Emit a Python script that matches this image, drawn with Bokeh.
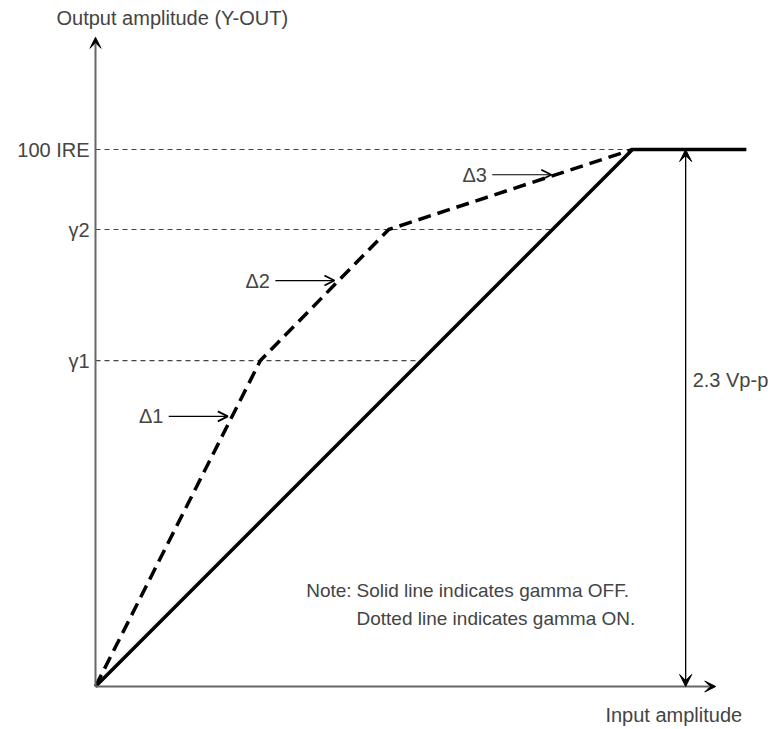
import numpy as np
from bokeh.plotting import figure
from bokeh.models import Arrow, VeeHead, OpenHead, Label, Range1d
from bokeh.embed import file_html
from bokeh.resources import INLINE

# ---- data (output units: 100 = 100 IRE; input scaled so gamma OFF is 1:1) ----
level_names = ["100 IRE", "\u03b32", "\u03b31"]
level_values = [100.0, 85.1, 60.7]

gamma_off_x = [0.0, 100.0, 121.2]
gamma_off_y = [0.0, 100.0, 100.0]

gamma_on_x = [0.0, 30.7, 54.6, 100.0]
gamma_on_y = [0.0, 60.7, 85.1, 100.0]

delta_names = ["\u03941", "\u03942", "\u03943"]
delta_y = [50.3, 75.6, 95.3]

note_lines = ["Solid line indicates gamma OFF.", "Dotted line indicates gamma ON."]
y_title = "Output amplitude (Y-OUT)"
x_title = "Input  amplitude"
span_label = "2.3 Vp-p"

FONT = "Liberation Sans"
FS = "20px"
FS_NOTE = "19px"

W, H = 780, 729
S = 5.37          # px per unit
OX, OY = 95, 43   # origin in canvas px (from left, from bottom)

p = figure(width=W, height=H, output_backend="svg", toolbar_location=None,
           x_range=Range1d(-OX / S, (W - OX) / S), y_range=Range1d(-OY / S, (H - OY) / S),
           min_border=0, background_fill_color="white", border_fill_color="white")
p.axis.visible = False
p.grid.visible = False
p.outline_line_color = None

# reference level dashed lines (end where they meet the gamma-OFF line)
p.segment(x0=[0] * len(level_values), y0=level_values, x1=level_values, y1=level_values,
          line_color="#444444", line_width=1.2, line_dash="5 4")

# axes with arrowheads
p.add_layout(Arrow(end=VeeHead(size=11, fill_color="black", line_color="black"),
                   x_start=0, y_start=0, x_end=0, y_end=120.9,
                   line_color="#666666", line_width=2))
p.add_layout(Arrow(end=VeeHead(size=11, fill_color="black", line_color="black"),
                   x_start=0, y_start=0, x_end=115.5, y_end=0,
                   line_color="#666666", line_width=2))

# curves
p.line(gamma_off_x, gamma_off_y, line_color="black", line_width=3.5, line_join="miter")
p.line(gamma_on_x, gamma_on_y, line_color="black", line_width=3.5, line_dash="13 7",
       line_join="round")

# 2.3 Vp-p span arrow
span_x = 109.9
p.add_layout(Arrow(start=VeeHead(size=12, fill_color="black", line_color="black"),
                   end=VeeHead(size=12, fill_color="black", line_color="black"),
                   x_start=span_x, y_start=0, x_end=span_x, y_end=level_values[0],
                   line_color="black", line_width=1.3))
p.add_layout(Label(x=span_x + 1.3, y=57.0, text=span_label, text_align="left",
                   text_baseline="middle", text_font=FONT, text_font_size=FS))

# delta arrows pointing at the gamma-ON segments
for name, yy in zip(delta_names, delta_y):
    tip = float(np.interp(yy, gamma_on_y, gamma_on_x)) - 0.8
    start = tip - 11.0
    p.add_layout(Arrow(end=OpenHead(size=10, line_width=1.8, line_color="black"),
                       x_start=start, y_start=yy, x_end=tip, y_end=yy,
                       line_color="black", line_width=1.2))
    p.add_layout(Label(x=start - 1.0, y=yy, text=name, text_align="right",
                       text_baseline="middle", text_font=FONT, text_font_size=FS))

# level labels
for name, lv in zip(level_names, level_values):
    p.add_layout(Label(x=-1.1, y=lv, text=name, text_align="right",
                       text_baseline="middle", text_font=FONT, text_font_size=FS))

# axis titles
p.add_layout(Label(x=14.3, y=124.4, text=y_title, text_align="center",
                   text_baseline="middle", text_font=FONT, text_font_size=FS))
p.add_layout(Label(x=108.2, y=-5.4, text=x_title, text_align="center",
                   text_baseline="middle", text_font=FONT, text_font_size=FS))

# note
p.add_layout(Label(x=47.7, y=17.9, text="Note:", text_align="right",
                   text_baseline="middle", text_font=FONT, text_font_size=FS_NOTE))
for i, t in enumerate(note_lines):
    p.add_layout(Label(x=48.6, y=17.9 - 5.2 * i, text=t, text_align="left",
                       text_baseline="middle", text_font=FONT, text_font_size=FS_NOTE))

open("out.html", "w").write(file_html(p, INLINE))
